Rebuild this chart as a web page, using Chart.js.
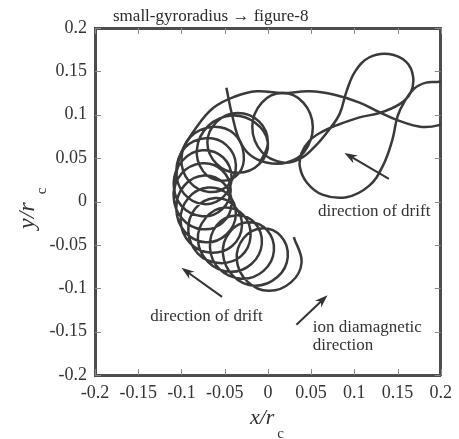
<!DOCTYPE html>
<html>
<head>
<meta charset="utf-8">
<script src="https://cdn.jsdelivr.net/npm/chart.js@4"></script>
<style>
  html, body { margin: 0; padding: 0; background: #fff; }
  canvas { display: block; }
</style>
</head>
<body>
<canvas id="orbitChart" width="459" height="439"></canvas>
<script>
// axis ticks (x/rc and y/rc)
const xTicks = [-0.2, -0.15, -0.1, -0.05, 0, 0.05, 0.1, 0.15, 0.2];
const yTicks = [-0.2, -0.15, -0.1, -0.05, 0, 0.05, 0.1, 0.15, 0.2];

// small-gyroradius loops, starting at the lower right and drifting round the arc
const chainX = [0.030,
  0.039, 0.027, 0.001, -0.024, -0.036, -0.028, -0.007, 0.015,
  0.023, 0.011, -0.015, -0.040, -0.052, -0.044, -0.023, -0.001,
  0.007, -0.005, -0.030, -0.056, -0.067, -0.059, -0.037, -0.015,
  -0.007, -0.019, -0.044, -0.069, -0.081, -0.072, -0.050, -0.028,
  -0.020, -0.031, -0.056, -0.081, -0.092, -0.084, -0.061, -0.039,
  -0.030, -0.041, -0.066, -0.090, -0.101, -0.092, -0.069, -0.046,
  -0.037, -0.048, -0.072, -0.096, -0.106, -0.097, -0.074, -0.051,
  -0.042, -0.052, -0.076, -0.099, -0.109, -0.100, -0.076, -0.053,
  -0.043, -0.053, -0.076, -0.100, -0.109, -0.099, -0.076, -0.052,
  -0.042, -0.051, -0.074, -0.097, -0.106, -0.096, -0.072, -0.048,
  -0.037, -0.046, -0.068, -0.091, -0.100, -0.089, -0.064, -0.039,
  -0.028, -0.034, -0.055, -0.075, -0.082, -0.069, -0.042, -0.015,
  0.000, -0.010, -0.035, -0.059, -0.070, -0.059, -0.035, -0.010, 0.000, -0.010];
const chainY = [-0.041,
  -0.070, -0.093, -0.103, -0.092, -0.067, -0.042, -0.031, -0.040,
  -0.064, -0.087, -0.097, -0.086, -0.060, -0.035, -0.024, -0.033,
  -0.057, -0.080, -0.089, -0.078, -0.053, -0.027, -0.016, -0.025,
  -0.049, -0.072, -0.081, -0.070, -0.044, -0.019, -0.007, -0.016,
  -0.040, -0.063, -0.071, -0.060, -0.034, -0.008, 0.004, -0.005,
  -0.028, -0.051, -0.059, -0.048, -0.022, 0.004, 0.016, 0.008,
  -0.015, -0.038, -0.047, -0.035, -0.008, 0.018, 0.030, 0.021,
  -0.002, -0.024, -0.032, -0.020, 0.006, 0.032, 0.044, 0.036,
  0.013, -0.009, -0.017, -0.005, 0.021, 0.047, 0.059, 0.051,
  0.028, 0.006, -0.003, 0.009, 0.035, 0.062, 0.073, 0.065,
  0.042, 0.019, 0.011, 0.023, 0.049, 0.075, 0.086, 0.078,
  0.055, 0.032, 0.024, 0.035, 0.061, 0.087, 0.099, 0.091,
  0.068, 0.043, 0.033, 0.043, 0.068, 0.092, 0.102, 0.092, 0.068, 0.043];

// wide sweep over the top to the right edge
const sweepX = [-0.109, -0.106, -0.100, -0.083, -0.063, -0.038, -0.013, 0.017, 0.048, 0.077, 0.106, 0.129, 0.152, 0.178, 0.198, 0.221];
const sweepY = [0.008, 0.031, 0.057, 0.085, 0.108, 0.121, 0.127, 0.125, 0.127, 0.123, 0.114, 0.103, 0.093, 0.086, 0.088, 0.097];

// figure-8 lobes, last loop and the tail
const eightX = [0.221, 0.198, 0.183, 0.169, 0.158, 0.150, 0.144, 0.133, 0.117, 0.091,
  0.063, 0.045, 0.037, 0.039, 0.048, 0.062, 0.080, 0.106, 0.129, 0.152,
  0.165, 0.168, 0.160, 0.140, 0.117, 0.101, 0.091, 0.083, 0.071, 0.054, 0.037,
  0.017, -0.007, -0.018, -0.007, 0.017, 0.041, 0.052, 0.042, 0.022, -0.002,
  -0.021, -0.033, -0.041, -0.048];
const eightY = [0.142, 0.138, 0.137, 0.130, 0.115, 0.098, 0.071, 0.041, 0.018, 0.005,
  0.008, 0.022, 0.040, 0.056, 0.070, 0.080, 0.088, 0.097, 0.102, 0.112,
  0.125, 0.144, 0.161, 0.170, 0.166, 0.150, 0.127, 0.101, 0.083, 0.063, 0.049,
  0.045, 0.057, 0.086, 0.114, 0.125, 0.114, 0.086, 0.057, 0.045, 0.045,
  0.054, 0.071, 0.098, 0.131];

// annotation arrows: tail x, tail y, head x, head y
const arrows = [
  [0.140, 0.026, 0.0885, 0.056],
  [-0.053, -0.110, -0.100, -0.0765],
  [0.033, -0.142, 0.069, -0.108]
];
const notes = [
  { text: 'direction of drift', x: 0.123, y: -0.0165, align: 'center' },
  { text: 'direction of drift', x: -0.071, y: -0.138, align: 'center' },
  { text: 'ion diamagnetic', x: 0.052, y: -0.150, align: 'left' },
  { text: 'direction', x: 0.052, y: -0.171, align: 'left' }
];

const serif = '"Liberation Serif", "Times New Roman", serif';

function toPoints(xs, ys) {
  return xs.map((v, i) => ({ x: v, y: ys[i] }));
}

function orbitSet(xs, ys) {
  return {
    data: toPoints(xs, ys),
    showLine: true,
    borderColor: '#3a3a3a',
    borderWidth: 2.5,
    tension: 0.4,
    pointRadius: 0,
    fill: false
  };
}

// short inward tick marks on all four sides of the frame
const innerTicks = {
  id: 'innerTicks',
  beforeDatasetsDraw(chart) {
    const { ctx, chartArea: a, scales: { x, y } } = chart;
    ctx.save();
    ctx.strokeStyle = '#8a8a8a';
    ctx.lineWidth = 1;
    ctx.beginPath();
    xTicks.forEach(v => {
      const px = Math.round(x.getPixelForValue(v)) + 0.5;
      ctx.moveTo(px, a.bottom); ctx.lineTo(px, a.bottom - 6);
      ctx.moveTo(px, a.top); ctx.lineTo(px, a.top + 6);
    });
    yTicks.forEach(v => {
      const py = Math.round(y.getPixelForValue(v)) + 0.5;
      ctx.moveTo(a.left, py); ctx.lineTo(a.left + 6, py);
      ctx.moveTo(a.right, py); ctx.lineTo(a.right - 6, py);
    });
    ctx.stroke();
    ctx.restore();
  }
};

const annotations = {
  id: 'annotations',
  afterDraw(chart) {
    const { ctx, chartArea, scales: { x, y } } = chart;
    ctx.save();
    ctx.strokeStyle = '#333';
    ctx.fillStyle = '#333';
    ctx.lineWidth = 2;
    arrows.forEach(([x0, y0, x1, y1]) => {
      const ax = x.getPixelForValue(x0), ay = y.getPixelForValue(y0);
      const bx = x.getPixelForValue(x1), by = y.getPixelForValue(y1);
      const ang = Math.atan2(by - ay, bx - ax);
      const len = 13, half = 4.5;
      ctx.beginPath();
      ctx.moveTo(ax, ay);
      ctx.lineTo(bx - Math.cos(ang) * 8, by - Math.sin(ang) * 8);
      ctx.stroke();
      ctx.beginPath();
      ctx.moveTo(bx, by);
      ctx.lineTo(bx - Math.cos(ang) * len - Math.sin(ang) * half, by - Math.sin(ang) * len + Math.cos(ang) * half);
      ctx.lineTo(bx - Math.cos(ang) * (len - 4), by - Math.sin(ang) * (len - 4));
      ctx.lineTo(bx - Math.cos(ang) * len + Math.sin(ang) * half, by - Math.sin(ang) * len - Math.cos(ang) * half);
      ctx.closePath();
      ctx.fill();
    });

    ctx.font = '17px ' + serif;
    ctx.textBaseline = 'alphabetic';
    notes.forEach(n => {
      ctx.textAlign = n.align;
      ctx.fillText(n.text, x.getPixelForValue(n.x), y.getPixelForValue(n.y));
    });

    // heading above the frame
    ctx.textAlign = 'left';
    ctx.fillStyle = '#2a2a2a';
    ctx.fillText('small-gyroradius \u2192 figure-8', chartArea.left + 18, chartArea.top - 7);

    // x axis title with subscript
    ctx.fillStyle = '#333';
    ctx.font = 'italic 22px ' + serif;
    const xl = (chartArea.left + chartArea.right) / 2 - 18;
    ctx.fillText('x/r', xl, 424);
    const xw = ctx.measureText('x/r').width;
    ctx.font = '15px ' + serif;
    ctx.fillText('c', xl + xw + 3, 438);

    // y axis title, rotated
    ctx.translate(34, 229);
    ctx.rotate(-Math.PI / 2);
    ctx.font = 'italic 24px ' + serif;
    ctx.fillText('y/r', 0, 0);
    const yw = ctx.measureText('y/r').width;
    ctx.font = '15px ' + serif;
    ctx.fillText('c', yw + 8, 12);
    ctx.restore();
  }
};

const frame = { display: true, color: '#4d4d4d', width: 3 };
const noGrid = { display: false, drawTicks: false, tickLength: 0 };
const tickFont = { family: serif, size: 18 };

new Chart(document.getElementById('orbitChart'), {
  type: 'scatter',
  data: {
    datasets: [
      orbitSet(chainX, chainY),
      orbitSet(sweepX, sweepY),
      orbitSet(eightX, eightY)
    ]
  },
  options: {
    responsive: false,
    animation: false,
    layout: { padding: 0 },
    elements: { line: { capBezierPoints: false } },
    plugins: { legend: { display: false }, tooltip: { enabled: false } },
    scales: {
      x: {
        type: 'linear', position: 'bottom', min: -0.2, max: 0.2,
        afterBuildTicks: s => { s.ticks = xTicks.map(v => ({ value: v })); },
        afterFit: s => { s.height = 64; },
        ticks: { font: tickFont, color: '#333', padding: 7, maxRotation: 0, autoSkip: false, callback: v => String(v) },
        grid: noGrid,
        border: frame
      },
      y: {
        type: 'linear', position: 'left', min: -0.2, max: 0.2,
        afterBuildTicks: s => { s.ticks = yTicks.map(v => ({ value: v })); },
        afterFit: s => { s.width = 95; },
        ticks: { font: tickFont, color: '#333', padding: 8, autoSkip: false, callback: v => String(v) },
        grid: noGrid,
        border: frame
      },
      x2: {
        type: 'linear', axis: 'x', position: 'top', min: -0.2, max: 0.2,
        afterFit: s => { s.height = 28; },
        ticks: { display: false },
        grid: noGrid,
        border: frame
      },
      y2: {
        type: 'linear', axis: 'y', position: 'right', min: -0.2, max: 0.2,
        afterFit: s => { s.width = 17; },
        ticks: { display: false },
        grid: noGrid,
        border: frame
      }
    }
  },
  plugins: [innerTicks, annotations]
});
</script>
</body>
</html>
